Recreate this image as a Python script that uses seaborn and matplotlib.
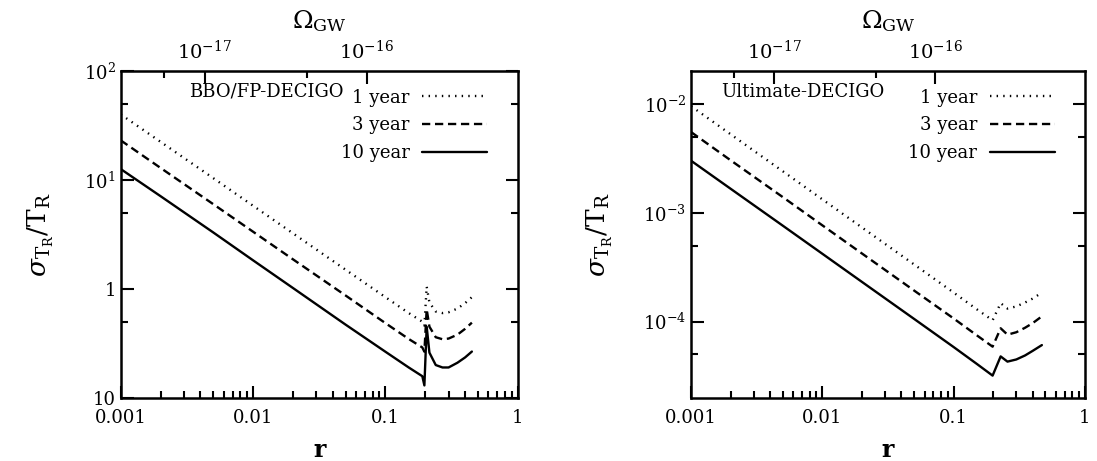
import matplotlib
matplotlib.use("Agg")
import matplotlib.pyplot as plt
import pandas as pd
import seaborn as sns

sns.set_style("ticks")
plt.rcParams["font.family"] = ["DejaVu Serif"]
plt.rcParams["mathtext.fontset"] = "dejavuserif"
plt.rcParams["font.size"] = 13
plt.rcParams["axes.edgecolor"] = "black"
plt.rcParams["text.color"] = "black"
plt.rcParams["axes.labelcolor"] = "black"
plt.rcParams["xtick.color"] = "black"
plt.rcParams["ytick.color"] = "black"

durations = ["1 year", "3 year", "10 year"]
dashes = {"1 year": (0.6, 2.2), "3 year": (3.5, 2.0), "10 year": ""}

# BBO/FP-DECIGO
r_bbo = [0.001, 0.002, 0.005, 0.01, 0.02, 0.05, 0.1, 0.15, 0.19, 0.197,
         0.205, 0.215, 0.24, 0.27, 0.3, 0.35, 0.4, 0.45]
bbo_1yr = [40, 22.4, 10.4, 5.8, 3.24, 1.5, 0.84, 0.60, 0.50, 0.46,
           1.05, 0.75, 0.62, 0.60, 0.61, 0.66, 0.74, 0.84]
bbo_3yr = [23.1, 12.9, 6.0, 3.35, 1.87, 0.87, 0.485, 0.347, 0.29, 0.265,
           0.65, 0.45, 0.36, 0.345, 0.35, 0.38, 0.43, 0.49]
bbo_10yr = [12.6, 7.1, 3.3, 1.83, 1.02, 0.47, 0.265, 0.19, 0.158, 0.13,
            0.45, 0.26, 0.20, 0.19, 0.19, 0.21, 0.235, 0.266]

# Ultimate-DECIGO
r_ult = [0.001, 0.002, 0.005, 0.01, 0.02, 0.05, 0.1, 0.15, 0.198, 0.228,
         0.257, 0.3, 0.35, 0.4, 0.47]
ult_1yr = [0.0095, 0.00525, 0.0024, 0.001326, 7.33e-4, 3.35e-4, 1.85e-4, 1.3e-4,
           1.03e-4, 1.48e-4, 1.32e-4, 1.38e-4, 1.5e-4, 1.63e-4, 1.85e-4]
ult_3yr = [0.0055, 0.00303, 0.00139, 7.66e-4, 4.23e-4, 1.93e-4, 1.07e-4, 7.5e-5,
           5.9e-5, 8.7e-5, 7.6e-5, 8.0e-5, 8.8e-5, 9.7e-5, 1.12e-4]
ult_10yr = [0.003, 0.00166, 7.6e-4, 4.2e-4, 2.32e-4, 1.06e-4, 5.85e-5, 4.1e-5,
            3.2e-5, 4.8e-5, 4.3e-5, 4.5e-5, 4.9e-5, 5.4e-5, 6.1e-5]

r_ticks = [0.001, 0.01, 0.1, 1]
r_ticklabels = ["0.001", "0.01", "0.1", "1"]
omega_major_r = [0.00431, 0.0724]
omega_labels = ["10$^{-17}$", "10$^{-16}$"]
omega_minor_r = [0.00213, 0.0255]

bbo_yticks = [100, 10, 1, 0.1]
bbo_ylabels = ["10$^2$", "10$^1$", "1", "10"]
bbo_yminor = [50, 5, 0.5]
ult_yticks = [1e-2, 1e-3, 1e-4]
ult_ylabels = ["10$^{-2}$", "10$^{-3}$", "10$^{-4}$"]
ult_yminor = [5e-3, 5e-4, 5e-5]


def long_table(r, series):
    frames = []
    for name, vals in zip(durations, series):
        frames.append(pd.DataFrame({"r": r, "sigma": vals, "duration": name}))
    return pd.concat(frames, ignore_index=True)


fig = plt.figure(figsize=(10.97, 4.61), dpi=100)
ax1 = fig.add_axes([0.110, 0.137, 0.362, 0.709])
ax2 = fig.add_axes([0.630, 0.137, 0.359, 0.709])

panels = [
    (ax1, long_table(r_bbo, [bbo_1yr, bbo_3yr, bbo_10yr]), "BBO/FP-DECIGO", 0.56,
     (0.1, 100), bbo_yticks, bbo_ylabels, bbo_yminor),
    (ax2, long_table(r_ult, [ult_1yr, ult_3yr, ult_10yr]), "Ultimate-DECIGO", 0.49,
     (2e-5, 2e-2), ult_yticks, ult_ylabels, ult_yminor),
]

for ax, df, name, name_x, ylim, yt, yl, ym in panels:
    sns.lineplot(data=df, x="r", y="sigma", style="duration", dashes=dashes,
                 color="black", linewidth=1.7, ax=ax, estimator=None, sort=False)
    ax.set_xscale("log")
    ax.set_yscale("log")
    ax.set_xlim(0.001, 1)
    ax.set_ylim(*ylim)
    ax.set_xticks(r_ticks, labels=r_ticklabels)
    ax.set_yticks(yt, labels=yl)
    ax.set_yticks(ym, minor=True)
    ax.yaxis.set_minor_formatter(matplotlib.ticker.NullFormatter())
    ax.tick_params(which="both", direction="in", top=False, right=True, width=1.5)
    ax.tick_params(which="major", length=9, labelsize=13)
    ax.tick_params(which="minor", length=5)
    ax.tick_params(axis="x", pad=8)
    for s in ax.spines.values():
        s.set_linewidth(1.8)
        s.set_visible(True)
    ax.set_xlabel("r", fontsize=17, fontweight="bold", labelpad=8)
    ax.set_ylabel(r"$\sigma_{\mathrm{T_R}}/\mathrm{T_R}$", fontsize=19, labelpad=20)

    handles, labels = ax.get_legend_handles_labels()
    ax.legend(handles, labels, loc="upper right", bbox_to_anchor=(0.955, 0.985),
              frameon=False, markerfirst=False, fontsize=13, handlelength=3.6,
              handletextpad=0.7, labelspacing=0.55, borderpad=0.2)
    ax.text(name_x, 0.936, name, transform=ax.transAxes, ha="right", va="center",
            fontsize=13)

    sec = ax.secondary_xaxis("top", functions=(lambda x: x, lambda x: x))
    sec.set_xscale("log")
    sec.set_xticks(omega_major_r, labels=omega_labels)
    sec.set_xticks(omega_minor_r, minor=True)
    sec.xaxis.set_minor_formatter(matplotlib.ticker.NullFormatter())
    sec.tick_params(which="both", direction="in", width=1.5, labelsize=14)
    sec.tick_params(which="major", length=9, pad=6)
    sec.tick_params(which="minor", length=5)
    sec.set_xlabel(r"$\Omega_{\rm GW}$", fontsize=18, labelpad=8)

fig.savefig("out.png", dpi=100)
